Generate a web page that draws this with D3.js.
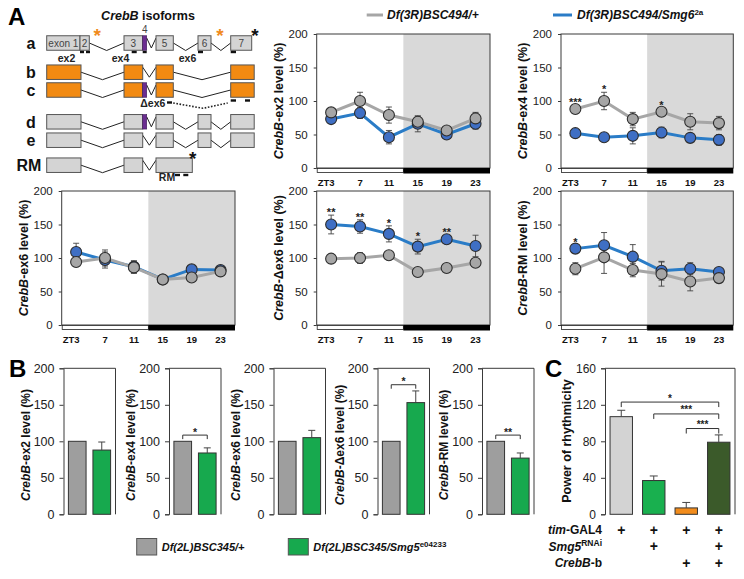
<!DOCTYPE html>
<html><head><meta charset="utf-8">
<script src="https://cdn.jsdelivr.net/npm/d3@7"></script>
<style>body{margin:0;background:#fff;} svg{display:block;font-family:"Liberation Sans",Arial,sans-serif;}</style>
</head><body><svg id="fig" width="744" height="579"></svg>
<script>
// ---------------- DATA ----------------
const timePoints = ["ZT3","7","11","15","19","23"];
const lineTicks = [0,50,100,150,200];

const ex2Ctrl = [83,100,79,69,56,74];
const ex2CtrlErr = [5,13,12,8,4,9];
const ex2Mut = [73,82,46,66,50,66];
const ex2MutErr = [6,8,10,12,5,8];
const ex2Stars = ["","","","","",""];

const ex4Ctrl = [88,100,73,84,69,67];
const ex4CtrlErr = [6,13,10,6,12,10];
const ex4Mut = [52,46,48,53,45,42];
const ex4MutErr = [4,3,12,8,5,8];
const ex4Stars = ["***","*","","*","",""];

const ex6Ctrl = [94,100,86,68,71,80];
const ex6CtrlErr = [5,12,9,5,3,3];
const ex6Mut = [109,97,87,68,83,82];
const ex6MutErr = [13,12,9,5,3,3];
const ex6Stars = ["","","","","",""];

const dex6Ctrl = [99,100,104,79,85,93];
const dex6CtrlErr = [3,8,5,3,4,5];
const dex6Mut = [150,147,136,117,128,118];
const dex6MutErr = [14,10,12,11,6,16];
const dex6Stars = ["**","**","*","*","**",""];

const rmCtrl = [84,101,82,76,65,70];
const rmCtrlErr = [9,24,10,18,14,3];
const rmMut = [114,119,102,81,84,79];
const rmMutErr = [5,19,18,14,9,3];
const rmStars = ["*","","","","",""];

const bGroups = ["Df(2L)BSC345/+","Df(2L)BSC345/Smg5"];
const bTargets = ["-ex2 level (%)","-ex4 level (%)","-ex6 level (%)","-\u0394ex6 level (%)","-RM level (%)"];
const bControl = [100,100,100,100,100];
const bMutant = [88,84,105,153,77];
const bMutantErr = [11,7,10,16,7];
const bSig = ["","*","","*","**"];
const bTicks = [0,50,100,150,200];

const cGroups = ["control","Smg5 RNAi","CrebB-b","Smg5 RNAi + CrebB-b"];
const cPower = [107,37,7,79];
const cPowerErr = [7,5,6,8];
const cTicks = [0,40,80,120,160];
const cTimGal4 = ["+","+","+","+"];
const cSmg5 = ["","+","","+"];
const cCrebB = ["","","+","+"];
const cCompFrom = [0,1,2];
const cCompTo = [3,3,3];
const cCompLevel = [123,110,94];
const cCompSig = ["*","***","***"];

// isoform schematic (diagram units)
const isoNames = ["a","b","c","d","e","RM"];
const exonsA = [[0,33.3],[33.3,42.6],[77.3,96],[109.3,126.6],[151.3,164.3],[184,205]];
const exonLabelsA = ["exon 1","2","3","5","6","7"];
const exonsB = [[0,34.3],[77.3,96],[109.3,126.6],[184,207.5]];
const exonsC = [[0,34.3],[77.3,96],[109.3,126.6],[184,207.5]];
const exonsD = [[0,34.3],[77.3,96],[109.3,126.6],[151.3,164.3],[184,207.5]];
const exonsE = [[0,34.3],[77.3,96],[109.3,126.6],[151.3,164.3],[184,207.5]];
const exonsRM = [[0,34.3],[77.3,96],[109.3,145.6]];
const hasExon4 = [true,false,true,true,false,false];
const isoOrange = [false,true,true,false,false,false];
const exon4 = [96,100];

// ---------------- DRAW ----------------
const svg = d3.select("#fig");
const FONT = '"Liberation Sans", Arial, sans-serif';
const DARK = "#3a3a3a";

function rich(sel, parts) {
  parts.forEach(p => {
    const t = sel.append("tspan").text(p.t);
    if (p.i) t.attr("font-style", "italic");
    if (p.n) t.attr("font-style", "normal");
    if (p.sup) t.attr("dy", -4.5).attr("font-size", p.sup);
  });
  return sel;
}

function vTitle(x, y, size, parts) {
  const t = svg.append("text")
    .attr("transform", `translate(${x},${y}) rotate(-90)`)
    .attr("text-anchor", "middle").attr("dy", "0.36em")
    .attr("font-size", size).attr("font-weight", "bold").attr("fill", "#111");
  rich(t, parts);
}

function lineChart(o) {
  const g = svg.append("g");
  const x = d3.scaleBand().domain(timePoints).range([o.left, o.right]);
  const y = d3.scaleLinear().domain([0, 200]).range([o.bottom, o.top]);
  const cx = i => x(timePoints[i]) + x.bandwidth() / 2;
  const night = x(timePoints[3]);
  g.append("rect").attr("x", night).attr("y", o.top).attr("width", o.right - night)
    .attr("height", o.bottom - o.top).attr("fill", "#d9d9d9");
  g.append("rect").attr("x", o.left).attr("y", o.top).attr("width", o.right - o.left)
    .attr("height", o.bottom - o.top).attr("fill", "none").attr("stroke", DARK).attr("stroke-width", 1);
  g.append("rect").attr("x", o.left + 0.5).attr("y", o.bottom + 0.5).attr("width", night - o.left - 0.5)
    .attr("height", 4).attr("fill", "#fff").attr("stroke", "#222").attr("stroke-width", 0.8);
  g.append("rect").attr("x", night).attr("y", o.bottom).attr("width", o.right - night)
    .attr("height", 5.5).attr("fill", "#000");
  const ax = g.append("g").attr("transform", `translate(${o.left},0)`)
    .call(d3.axisLeft(y).tickValues(lineTicks).tickSize(3).tickPadding(6));
  ax.select(".domain").remove();
  ax.selectAll("text").attr("font-size", 11.5).attr("font-family", FONT).attr("fill", "#222");
  ax.selectAll("line").attr("stroke", DARK);
  g.selectAll(".xl").data(timePoints).join("text")
    .attr("x", (d, i) => cx(i) + (i === 0 ? -5 : 0)).attr("y", o.bottom + 17.5)
    .attr("text-anchor", "middle").attr("font-size", 9.5).attr("font-weight", "bold").attr("fill", "#111")
    .text(d => d);

  const series = [
    {v: o.mut, e: o.mutErr, line: "#2a7cc7", fill: "#3f6fc4"},
    {v: o.ctrl, e: o.ctrlErr, line: "#a6a6a6", fill: "#a6a6a6"}
  ];
  series.forEach(s => {
    s.v.forEach((v, i) => {
      const e = s.e[i];
      g.append("line").attr("x1", cx(i)).attr("x2", cx(i)).attr("y1", y(v - e)).attr("y2", y(v + e))
        .attr("stroke", "#444").attr("stroke-width", 0.9);
      [v - e, v + e].forEach(t => g.append("line").attr("x1", cx(i) - 3).attr("x2", cx(i) + 3)
        .attr("y1", y(t)).attr("y2", y(t)).attr("stroke", "#444").attr("stroke-width", 0.9));
    });
  });
  const ln = d3.line().x((d, i) => cx(i)).y(d => y(d));
  series.forEach(s => g.append("path").datum(s.v).attr("d", ln).attr("fill", "none")
    .attr("stroke", s.line).attr("stroke-width", 3));
  series.forEach(s => g.selectAll(null).data(s.v).join("circle")
    .attr("cx", (d, i) => cx(i)).attr("cy", d => y(d)).attr("r", 5.5)
    .attr("fill", s.fill).attr("stroke", "#2d2d2d").attr("stroke-width", 1.1));
  o.stars.forEach((s, i) => {
    if (!s) return;
    const top = Math.max(o.ctrl[i] + o.ctrlErr[i], o.mut[i] + o.mutErr[i]);
    g.append("text").attr("x", cx(i)).attr("y", y(top) + 1).attr("text-anchor", "middle")
      .attr("font-size", 11).attr("font-weight", "bold").attr("fill", "#222").text(s);
  });
  vTitle(o.left - 38.5, (o.top + o.bottom) / 2, 12.5, [{t: "CrebB", i: true}, {t: o.label}]);
}

lineChart({left: 316.7, right: 490, top: 34, bottom: 168, ctrl: ex2Ctrl, ctrlErr: ex2CtrlErr, mut: ex2Mut, mutErr: ex2MutErr, stars: ex2Stars, label: "-ex2 level (%)"});
lineChart({left: 561, right: 733.3, top: 34, bottom: 168, ctrl: ex4Ctrl, ctrlErr: ex4CtrlErr, mut: ex4Mut, mutErr: ex4MutErr, stars: ex4Stars, label: "-ex4 level (%)"});
lineChart({left: 61.7, right: 235, top: 191, bottom: 325, ctrl: ex6Ctrl, ctrlErr: ex6CtrlErr, mut: ex6Mut, mutErr: ex6MutErr, stars: ex6Stars, label: "-ex6 level (%)"});
lineChart({left: 316.7, right: 490, top: 191, bottom: 325, ctrl: dex6Ctrl, ctrlErr: dex6CtrlErr, mut: dex6Mut, mutErr: dex6MutErr, stars: dex6Stars, label: "-\u0394ex6 level (%)"});
lineChart({left: 561, right: 733.3, top: 191, bottom: 325, ctrl: rmCtrl, ctrlErr: rmCtrlErr, mut: rmMut, mutErr: rmMutErr, stars: rmStars, label: "-RM level (%)"});

// top legend
svg.append("line").attr("x1", 366.7).attr("x2", 383).attr("y1", 15).attr("y2", 15).attr("stroke", "#a6a6a6").attr("stroke-width", 3);
rich(svg.append("text").attr("x", 387).attr("y", 19.3).attr("font-size", 12).attr("font-weight", "bold")
  .attr("font-style", "italic").attr("fill", "#111"), [{t: "Df(3R)BSC494/+"}]);
svg.append("line").attr("x1", 553).attr("x2", 572).attr("y1", 15).attr("y2", 15).attr("stroke", "#2a7cc7").attr("stroke-width", 3);
rich(svg.append("text").attr("x", 577).attr("y", 19.3).attr("font-size", 12).attr("font-weight", "bold")
  .attr("font-style", "italic").attr("fill", "#111"), [{t: "Df(3R)BSC494/Smg6"}, {t: "2a", sup: 8, n: true}]);

// ---------------- Isoform schematic ----------------
const dx = d3.scaleLinear().domain([0, 208]).range([46.7, 254.7]);
const rowY = [43, 72.2, 90, 121.8, 140.2, 165.2];
const rowExons = [exonsA, exonsB, exonsC, exonsD, exonsE, exonsRM];
const BH = 14.5;
rowExons.forEach((exs, r) => {
  const yc = rowY[r];
  const g = svg.append("g");
  // introns
  for (let k = 1; k < exs.length; k++) {
    let s = exs[k - 1][1];
    const e = exs[k][0];
    if (e - s < 0.5) continue;
    if (hasExon4[r] && Math.abs(s - exon4[0]) < 0.5) s = exon4[1];
    const small = (e - s) < 15;
    const pts = small ? [[s, yc - 5], [(s + e) / 2, yc + 5], [e, yc - 5]] : [[s, yc], [(s + e) / 2, yc + 7.5], [e, yc]];
    g.append("path").attr("d", d3.line().x(p => dx(p[0])).y(p => p[1])(pts))
      .attr("fill", "none").attr("stroke", "#222").attr("stroke-width", 1);
  }
  exs.forEach(ex => {
    g.append("rect").attr("x", dx(ex[0])).attr("y", yc - BH / 2).attr("width", dx(ex[1]) - dx(ex[0]))
      .attr("height", BH).attr("fill", isoOrange[r] ? "#f28a12" : "#d4d4d4").attr("stroke", "#555").attr("stroke-width", 1);
  });
  if (hasExon4[r]) {
    g.append("rect").attr("x", dx(exon4[0])).attr("y", yc - BH / 2).attr("width", dx(exon4[1]) - dx(exon4[0]))
      .attr("height", BH).attr("fill", "#6b2d90").attr("stroke", "#3c1a55").attr("stroke-width", 0.6);
  }
  svg.append("text").attr("x", r === 5 ? 29 : 31).attr("y", yc).attr("dy", "0.36em").attr("text-anchor", "middle")
    .attr("font-size", 16).attr("font-weight", "bold").attr("fill", "#111").text(isoNames[r]);
});
// exon labels row a
exonsA.forEach((ex, i) => {
  svg.append("text").attr("x", dx((ex[0] + ex[1]) / 2)).attr("y", rowY[0]).attr("dy", "0.36em")
    .attr("text-anchor", "middle").attr("font-size", 10).attr("fill", "#444").text(exonLabelsA[i]);
});
svg.append("text").attr("x", dx(98)).attr("y", 29).attr("dy", "0.36em").attr("text-anchor", "middle")
  .attr("font-size", 10).attr("fill", "#444").text("4");
// asterisks
[[50.6, "#f08a1c"], [173.3, "#f08a1c"], [208.3, "#111"]].forEach(a => {
  svg.append("text").attr("x", dx(a[0])).attr("y", 42).attr("text-anchor", "middle").attr("font-size", 19)
    .attr("font-weight", "bold").attr("fill", a[1]).text("*");
});
svg.append("text").attr("x", dx(146)).attr("y", 165).attr("text-anchor", "middle").attr("font-size", 19)
  .attr("font-weight", "bold").attr("fill", "#111").text("*");
// primers
function dash(a, b, yy) {
  svg.append("line").attr("x1", dx(a)).attr("x2", dx(b)).attr("y1", yy).attr("y2", yy).attr("stroke", "#111").attr("stroke-width", 2.4);
}
[[33.3, 37.3], [39.3, 43.3], [85, 90], [96, 100], [151.3, 156.3], [184, 189.3]].forEach(d => dash(d[0], d[1], 52));
[["ex2", 19.8], ["ex4", 73.8], ["ex6", 140.8]].forEach(l => svg.append("text").attr("x", dx(l[1])).attr("y", 61.5)
  .attr("text-anchor", "middle").attr("font-size", 10.5).attr("font-weight", "bold").attr("fill", "#222").text(l[0]));
dash(120.3, 125.3, 102.5);
dash(184, 189.3, 100.5);
dash(198.3, 203.3, 100.5);
svg.append("path").attr("d", d3.line().x(p => dx(p[0])).y(p => p[1])([[126.5, 103], [156.3, 108.3], [181, 103]]))
  .attr("fill", "none").attr("stroke", "#222").attr("stroke-width", 1.6).attr("stroke-dasharray", "1.6,1.6");
svg.append("text").attr("x", dx(106.1)).attr("y", 107).attr("text-anchor", "middle").attr("font-size", 10.5)
  .attr("font-weight", "bold").attr("fill", "#222").text("\u0394ex6");
svg.append("text").attr("x", dx(120.3)).attr("y", 180.5).attr("text-anchor", "middle").attr("font-size", 10.5)
  .attr("font-weight", "bold").attr("fill", "#222").text("RM");
dash(128.3, 133.3, 175);
dash(136.6, 141.6, 175);
rich(svg.append("text").attr("x", 148).attr("y", 19.5).attr("text-anchor", "middle").attr("font-size", 12.5)
  .attr("font-weight", "bold").attr("fill", "#111"), [{t: "CrebB", i: true}, {t: " isoforms"}]);

// panel letters
[["A", 8, 25], ["B", 9, 377], ["C", 545, 377]].forEach(p => svg.append("text").attr("x", p[1]).attr("y", p[2])
  .attr("font-size", 24).attr("font-weight", "bold").attr("fill", "#000").text(p[0]));

// ---------------- Panel B ----------------
const bY = d3.scaleLinear().domain([0, 200]).range([514.3, 368.3]);
const bLefts = [63.5, 169, 273.5, 377.5, 482];
const bW = 52;
const bColors = ["#9e9e9e", "#17a94e"];
bTargets.forEach((lab, k) => {
  const left = bLefts[k];
  const g = svg.append("g");
  const x = d3.scaleBand().domain(bGroups).range([left, left + bW]).paddingInner(0.28).paddingOuter(0.2);
  const vals = [bControl[k], bMutant[k]];
  g.selectAll("rect.bar").data(vals).join("rect")
    .attr("x", (d, i) => x(bGroups[i])).attr("y", d => bY(d)).attr("width", x.bandwidth())
    .attr("height", d => bY(0) - bY(d)).attr("fill", (d, i) => bColors[i]).attr("stroke", "#333").attr("stroke-width", 1);
  const gx = x(bGroups[1]) + x.bandwidth() / 2;
  const top = bMutant[k] + bMutantErr[k];
  g.append("line").attr("x1", gx).attr("x2", gx).attr("y1", bY(bMutant[k])).attr("y2", bY(top)).attr("stroke", "#444");
  g.append("line").attr("x1", gx - 3.5).attr("x2", gx + 3.5).attr("y1", bY(top)).attr("y2", bY(top)).attr("stroke", "#444");
  g.append("path").attr("d", `M${left},${bY(200)}H${left + bW}V${bY(0)}`).attr("fill", "none").attr("stroke", DARK);
  const ax = g.append("g").attr("transform", `translate(${left},0)`)
    .call(d3.axisLeft(bY).tickValues(bTicks).tickSize(4).tickPadding(5));
  ax.select(".domain").attr("stroke", DARK);
  ax.selectAll("text").attr("font-size", 12.5).attr("font-family", FONT).attr("fill", "#222");
  ax.selectAll("line").attr("stroke", DARK);
  if (bSig[k]) {
    const x0 = x(bGroups[0]) + x.bandwidth() / 2;
    const lvl = bY(Math.max(bControl[k], top) + 8.5);
    g.append("path").attr("d", `M${x0},${lvl + 4}V${lvl}H${gx}V${lvl + 4}`).attr("fill", "none").attr("stroke", "#333");
    g.append("text").attr("x", (x0 + gx) / 2).attr("y", lvl + 0.5).attr("text-anchor", "middle")
      .attr("font-size", 10.5).attr("font-weight", "bold").attr("fill", "#222").text(bSig[k]);
  }
  vTitle(left - 38, 445, 12, [{t: "CrebB", i: true}, {t: lab}]);
});
// B legend
svg.append("rect").attr("x", 136.7).attr("y", 538.5).attr("width", 20).attr("height", 16.5).attr("fill", bColors[0]).attr("stroke", "#555");
rich(svg.append("text").attr("x", 161.7).attr("y", 551).attr("font-size", 11).attr("font-weight", "bold")
  .attr("font-style", "italic").attr("fill", "#111"), [{t: bGroups[0]}]);
svg.append("rect").attr("x", 288.3).attr("y", 538.5).attr("width", 20).attr("height", 16.5).attr("fill", bColors[1]).attr("stroke", "#555");
rich(svg.append("text").attr("x", 313.3).attr("y", 551).attr("font-size", 11).attr("font-weight", "bold")
  .attr("font-style", "italic").attr("fill", "#111"), [{t: bGroups[1]}, {t: "e04233", sup: 8, n: true}]);

// ---------------- Panel C ----------------
const cY = d3.scaleLinear().domain([0, 160]).range([514.3, 368.3]);
const cX = d3.scaleBand().domain(cGroups).range([605, 735]).paddingInner(0.31).paddingOuter(0.155);
const cColors = ["#d3d3d3", "#19b04f", "#f28c1c", "#3b5a2a"];
const cg = svg.append("g");
const ccx = i => cX(cGroups[i]) + cX.bandwidth() / 2;
cg.selectAll("rect.bar").data(cPower).join("rect")
  .attr("x", (d, i) => cX(cGroups[i])).attr("y", d => cY(d)).attr("width", cX.bandwidth())
  .attr("height", d => cY(0) - cY(d)).attr("fill", (d, i) => cColors[i]).attr("stroke", "#333").attr("stroke-width", 1);
cPower.forEach((v, i) => {
  const t = v + cPowerErr[i];
  cg.append("line").attr("x1", ccx(i)).attr("x2", ccx(i)).attr("y1", cY(v)).attr("y2", cY(t)).attr("stroke", "#444");
  cg.append("line").attr("x1", ccx(i) - 4).attr("x2", ccx(i) + 4).attr("y1", cY(t)).attr("y2", cY(t)).attr("stroke", "#444");
});
cg.append("path").attr("d", `M605,${cY(160)}H735V${cY(0)}`).attr("fill", "none").attr("stroke", DARK);
const cax = cg.append("g").attr("transform", "translate(605,0)")
  .call(d3.axisLeft(cY).tickValues(cTicks).tickSize(4).tickPadding(5));
cax.select(".domain").attr("stroke", DARK);
cax.selectAll("text").attr("font-size", 12).attr("font-family", FONT).attr("fill", "#222");
cax.selectAll("line").attr("stroke", DARK);
cCompFrom.forEach((f, k) => {
  const a = ccx(f), b = ccx(cCompTo[k]), l = cY(cCompLevel[k]);
  cg.append("path").attr("d", `M${a},${l + 5}V${l}H${b}V${l + 5}`).attr("fill", "none").attr("stroke", "#333");
  cg.append("text").attr("x", (a + b) / 2).attr("y", l - 0.5).attr("text-anchor", "middle").attr("font-size", 10)
    .attr("font-weight", "bold").attr("fill", "#222").text(cCompSig[k]);
});
vTitle(566, 441, 12.5, [{t: "Power of rhythmicity"}]);
const rowsC = [cTimGal4, cSmg5, cCrebB];
const rowCY = [529.5, 546.3, 563];
const rowCLab = [[{t: "tim", i: true}, {t: "-GAL4"}], [{t: "Smg5", i: true}, {t: "RNAi", sup: 8.5}], [{t: "CrebB", i: true}, {t: "-b"}]];
rowsC.forEach((row, r) => {
  rich(svg.append("text").attr("x", 602).attr("y", rowCY[r] + 4.3).attr("text-anchor", "end").attr("font-size", 12)
    .attr("font-weight", "bold").attr("fill", "#111"), rowCLab[r]);
  row.forEach((s, i) => {
    if (!s) return;
    svg.append("text").attr("x", ccx(i)).attr("y", rowCY[r] + 5).attr("text-anchor", "middle").attr("font-size", 14)
      .attr("font-weight", "bold").attr("fill", "#111").text(s);
  });
});
</script></body></html>
